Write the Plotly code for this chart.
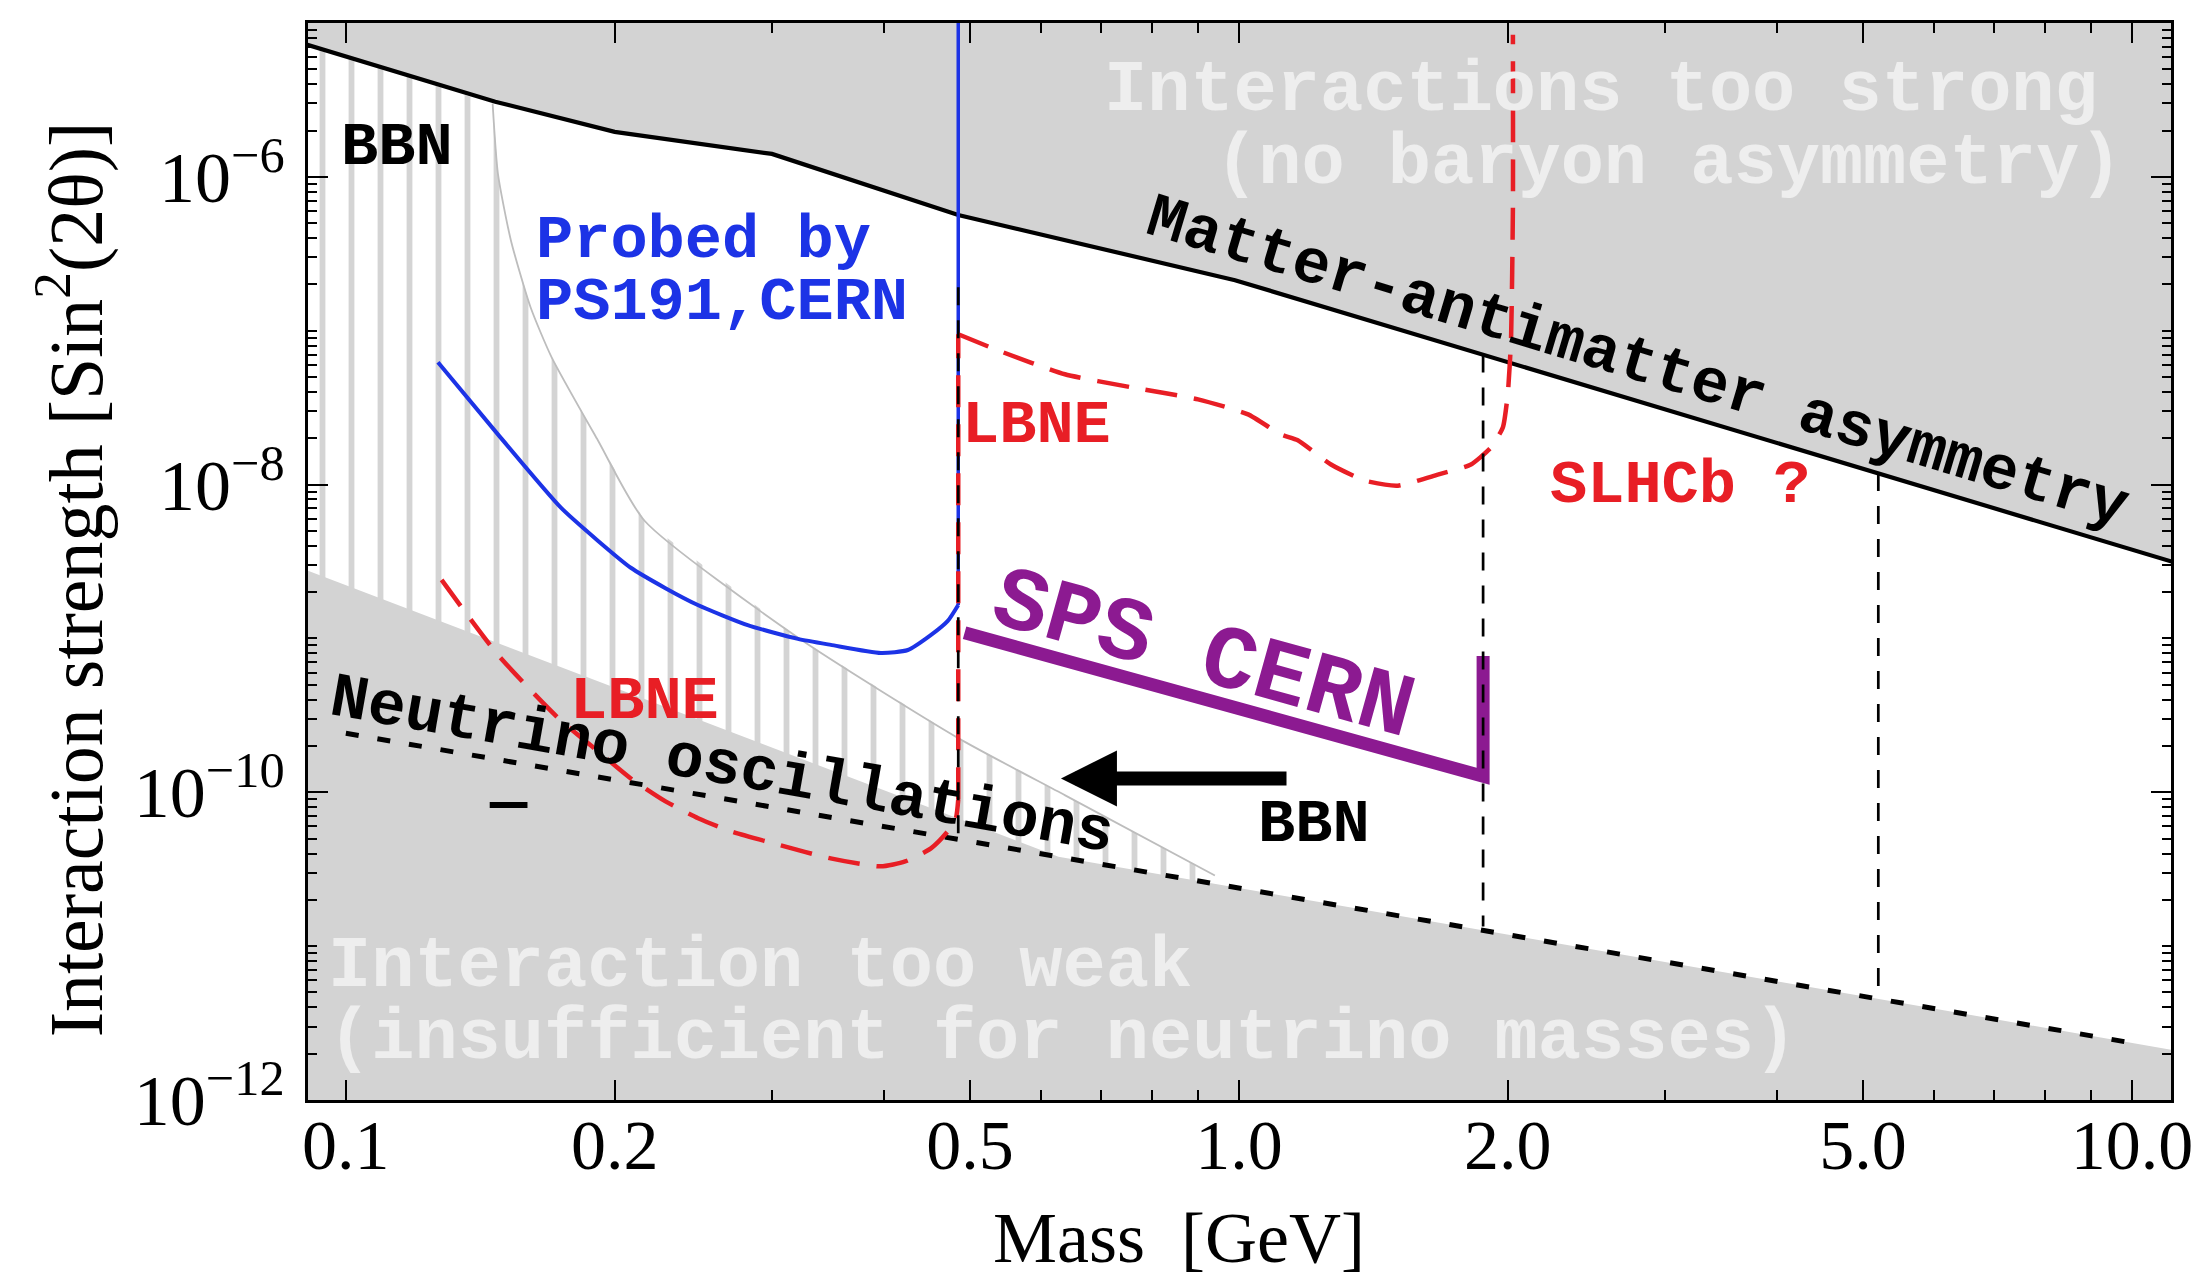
import numpy as np
import plotly.graph_objects as go

# ---------------- data (mass in GeV, sin^2(2theta)) ----------------
# Matter-antimatter asymmetry bound (black solid line, upper edge of allowed region)
MAA_M = [0.09, 0.147, 0.2, 0.3, 0.485, 0.99, 11.1]
MAA_S = [7.3e-6, 3.08e-6, 1.96e-6, 1.41e-6, 5.65e-7, 2.13e-7, 3.15e-9]

# BBN bound (thin grey curve)
BBN_M = [0.146, 0.148, 0.153, 0.161, 0.170, 0.1915, 0.216, 0.321, 0.485, 0.639, 0.94]
BBN_S = [2.99e-6, 1.05e-6, 3.89e-7, 1.42e-7, 6.71e-8, 1.94e-8, 5.82e-9, 1.01e-9, 2.25e-10, 9.55e-11, 2.88e-11]

# steep lower edge of allowed region ("interaction too weak")
WEAK_M = [0.09, 0.628]
WEAK_S = [2.8e-9, 3.81e-11]

# neutrino oscillations (dotted line)
NU_M = [0.1, 10.0]
NU_S = [2.42e-10, 2.35e-12]

# PS191 (blue)
PS191_M = [0.1268, 0.148, 0.1741, 0.1915, 0.2085, 0.2277, 0.2478, 0.2818, 0.3208,
           0.3492, 0.3973, 0.4259, 0.4518, 0.4721, 0.485]
PS191_S = [6.24e-8, 2.12e-8, 7.08e-9, 4.32e-9, 2.88e-9, 2.13e-9, 1.65e-9, 1.22e-9, 9.93e-10,
           9.08e-10, 8.05e-10, 8.41e-10, 1.05e-9, 1.30e-9, 1.65e-9]
PS191_TOP = 2e-5

# LBNE (red dashed): lower branch, kaon-threshold vertical, upper branch
LBNE_LOW_M = [0.128, 0.148, 0.173, 0.1915, 0.2085, 0.228, 0.248, 0.27, 0.307, 0.349,
              0.397, 0.423, 0.452, 0.472, 0.482, 0.485]
LBNE_LOW_S = [2.40e-9, 7.82e-10, 3.03e-10, 1.85e-10, 1.23e-10, 8.73e-11, 6.78e-11, 5.57e-11,
              4.52e-11, 3.72e-11, 3.30e-11, 3.55e-11, 4.32e-11, 5.57e-11, 6.78e-11, 9.0e-11]
LBNE_UP_M = [0.485, 0.537, 0.6385, 0.757, 0.90, 1.024, 1.114, 1.164, 1.268, 1.384, 1.507,
             1.67, 1.819, 1.915, 1.975, 2.0, 2.017, 2.027, 2.027]
LBNE_UP_S = [9.48e-8, 7.46e-8, 5.21e-8, 4.29e-8, 3.58e-8, 2.86e-8, 2.12e-8, 1.94e-8, 1.35e-8,
             1.06e-8, 9.84e-9, 1.16e-8, 1.35e-8, 1.74e-8, 2.35e-8, 3.85e-8, 8.67e-8, 6.38e-7, 8.4e-6]

# SPS CERN (purple)
SPS_M = [0.493, 1.877, 1.877]
SPS_S = [1.09e-9, 1.27e-10, 7.7e-10]

# meson thresholds (black dashed verticals)
MESON_M = [0.485, 1.877, 5.2]
MESON_TOP = [1.92e-7, 7.0e-8, 1.19e-8]
MESON_BOT = [4.94e-11, 1.34e-11, 4.55e-12]

# BBN arrow
ARROW_M = [1.135, 0.632]
ARROW_S = 1.23e-10

# axis ticks
X_TICKS = [0.1, 0.2, 0.5, 1.0, 2.0, 5.0, 10.0]
X_TICKTEXT = ["0.1", "0.2", "0.5", "1.0", "2.0", "5.0", "10.0"]
X_MINOR = [0.3, 0.4, 0.6, 0.7, 0.8, 0.9, 3, 4, 6, 7, 8, 9]
Y_TICKS = [1e-6, 1e-8, 1e-10, 1e-12]
Y_TICKTEXT = ["10<sup>\u22126</sup>", "10<sup>\u22128</sup>", "10<sup>\u221210</sup>", "10<sup>\u221212</sup>"]

# ---------------- helpers ----------------
lg = np.log10
SERIF = "Liberation Serif"
MONO = "Liberation Mono"
GREY = "#d3d3d3"
RED = "#e81e25"
BLUE = "#1c33e6"
PURPLE = "#8c1a91"
X_LO, X_HI = 0.0907, 11.06
FAR_LOW, FAR_HIGH = 1e-13, 1e-3


def nu_line(m):
    k = lg(NU_S[1] / NU_S[0]) / lg(NU_M[1] / NU_M[0])
    return NU_S[0] * (m / NU_M[0]) ** k


fig = go.Figure()

# hatched BBN-excluded region (drawn first, grey regions overlay it)
hatch_m = [m for m in MAA_M if m < BBN_M[0]] + BBN_M + [BBN_M[-1], MAA_M[0]]
hatch_s = [s for m, s in zip(MAA_M, MAA_S) if m < BBN_M[0]] + BBN_S + [FAR_LOW, FAR_LOW]
fig.add_trace(go.Scatter(
    x=hatch_m, y=hatch_s, mode="lines", line=dict(width=0), fill="toself", fillcolor="white",
    fillpattern=dict(shape="|", size=29, solidity=0.2, fgcolor="#d4d4d4", bgcolor="white",
                     fillmode="replace"),
    hoverinfo="skip"))

# upper grey region (too strong)
fig.add_trace(go.Scatter(
    x=MAA_M + [MAA_M[-1], MAA_M[0]], y=MAA_S + [FAR_HIGH, FAR_HIGH], mode="lines",
    line=dict(width=0), fill="toself", fillcolor=GREY, hoverinfo="skip"))

# lower grey region (too weak)
low_m = WEAK_M + [MAA_M[-1], MAA_M[-1], WEAK_M[0]]
low_s = WEAK_S + [nu_line(MAA_M[-1]), FAR_LOW, FAR_LOW]
fig.add_trace(go.Scatter(
    x=low_m, y=low_s, mode="lines", line=dict(width=0), fill="toself", fillcolor=GREY,
    hoverinfo="skip"))

# thin BBN curve
fig.add_trace(go.Scatter(x=BBN_M, y=BBN_S, mode="lines",
                         line=dict(color="#bdbdbd", width=1.8, shape="spline", smoothing=0.6)))

# matter-antimatter black line
fig.add_trace(go.Scatter(x=MAA_M, y=MAA_S, mode="lines", line=dict(color="black", width=4.2)))

# neutrino oscillations dotted line
fig.add_trace(go.Scatter(x=NU_M, y=NU_S, mode="lines",
                         line=dict(color="black", width=5, dash="13px,19px")))

# PS191 blue
fig.add_trace(go.Scatter(x=PS191_M, y=PS191_S, mode="lines",
                         line=dict(color=BLUE, width=4, shape="spline", smoothing=0.6)))
fig.add_trace(go.Scatter(x=[PS191_M[-1], PS191_M[-1]], y=[PS191_S[-1], PS191_TOP], mode="lines",
                         line=dict(color=BLUE, width=3.5)))

# LBNE red dashed
RED_DASH = "32px,17px"
fig.add_trace(go.Scatter(x=LBNE_LOW_M, y=LBNE_LOW_S, mode="lines",
                         line=dict(color=RED, width=4.5, dash=RED_DASH, shape="spline", smoothing=0.6)))
fig.add_trace(go.Scatter(x=[LBNE_LOW_M[-1], LBNE_UP_M[0]], y=[LBNE_LOW_S[-1], LBNE_UP_S[0]], mode="lines",
                         line=dict(color=RED, width=4.5, dash=RED_DASH)))
fig.add_trace(go.Scatter(x=LBNE_UP_M, y=LBNE_UP_S, mode="lines",
                         line=dict(color=RED, width=4.5, dash=RED_DASH, shape="spline", smoothing=0.5)))

# SPS CERN purple
fig.add_trace(go.Scatter(x=SPS_M, y=SPS_S, mode="lines", line=dict(color=PURPLE, width=13)))

# meson thresholds
for m, top, bot in zip(MESON_M, MESON_TOP, MESON_BOT):
    fig.add_trace(go.Scatter(x=[m, m], y=[top, bot], mode="lines",
                             line=dict(color="black", width=2.7, dash="18px,15px")))

# ---------------- annotations ----------------
def label(text, m, s, size, color, xanchor="center", angle=0, family=MONO, bold=True):
    fig.add_annotation(
        x=lg(m), y=lg(s), xref="x", yref="y", text=("<b>%s</b>" % text) if bold else text,
        showarrow=False, xanchor=xanchor, yanchor="middle", textangle=angle,
        font=dict(family=family, size=size, color=color))


def px_to_data(px, py):
    # convenience: pixel position inside the reference frame -> data values
    return 10 ** (-1 + (px - 338) / 893.0), 10 ** (-6 - (py - 170) / 153.5)


LIGHT = "#eeeeee"
label("BBN", *px_to_data(389, 141), 62, "black")
label("Probed by", *px_to_data(526, 233), 62, BLUE, xanchor="left")
label("PS191,CERN", *px_to_data(526, 295), 62, BLUE, xanchor="left")
label("LBNE", *px_to_data(952, 418), 62, RED, xanchor="left")
label("LBNE", *px_to_data(560, 693), 62, RED, xanchor="left")
label("SLHCb ?", *px_to_data(1540, 478), 62, RED, xanchor="left")
label("BBN", *px_to_data(1306, 816), 62, "black")
label("\u2014", *px_to_data(501, 796), 62, "black")
label("SPS CERN", *px_to_data(1195, 648), 90, PURPLE, angle=15.5)
label("Matter-antimatter asymmetry", *px_to_data(1630, 356), 63, "black", angle=16.7)
label("Neutrino oscillations", *px_to_data(714, 758), 63, "black", angle=10)
label("Interactions too strong", *px_to_data(1094, 84), 72, LIGHT, xanchor="left")
label("(no baryon asymmetry)", *px_to_data(1205, 157), 72, LIGHT, xanchor="left")
label("Interaction too weak", *px_to_data(318, 958), 72, LIGHT, xanchor="left")
label("(insufficient for neutrino masses)", *px_to_data(318, 1030), 72, LIGHT, xanchor="left")

# arrow
fig.add_annotation(x=lg(ARROW_M[1]), y=lg(ARROW_S), ax=lg(ARROW_M[0]), ay=lg(ARROW_S),
                   xref="x", yref="y", axref="x", ayref="y", text="", showarrow=True,
                   arrowhead=2, arrowsize=0.8, arrowwidth=14, arrowcolor="black")

# axis titles
fig.add_annotation(x=0.4675, y=-0.128, xref="paper", yref="paper", showarrow=False,
                   text="Mass\u00a0 [GeV]", xanchor="center", yanchor="middle",
                   font=dict(family=SERIF, size=72, color="black"))
fig.add_annotation(x=-0.127, y=0.4838, xref="paper", yref="paper", showarrow=False,
                   text="Interaction strength [Sin<sup>2</sup>(2\u03b8)]", textangle=-90,
                   xanchor="center", yanchor="middle",
                   font=dict(family=SERIF, size=76, color="black"))

y_minor = [k * 10.0 ** n for n in range(-12, -5) for k in range(1, 10)
           if not (k == 1 and n % 2 == 0)]

fig.update_layout(
    width=2199, height=1277, margin=dict(l=300, r=36, t=15, b=185),
    plot_bgcolor="white", paper_bgcolor="white", showlegend=False,
)
fig.update_xaxes(
    type="log", range=[lg(X_LO), lg(X_HI)], tickmode="array", tickvals=X_TICKS, ticktext=X_TICKTEXT,
    ticks="inside", ticklen=20, tickwidth=2, tickcolor="black", showline=True, linewidth=3,
    linecolor="black", mirror="allticks", showgrid=False, zeroline=False, ticklabelstandoff=-18,
    tickfont=dict(family=SERIF, size=70, color="black"),
    minor=dict(tickmode="array", tickvals=X_MINOR, ticks="inside", ticklen=10, tickwidth=2,
               tickcolor="black", showgrid=False),
)
fig.update_yaxes(
    type="log", range=[-12, -5], tickmode="array", tickvals=Y_TICKS, ticktext=Y_TICKTEXT,
    ticks="inside", ticklen=20, tickwidth=2, tickcolor="black", showline=True, linewidth=3,
    linecolor="black", mirror="allticks", showgrid=False, zeroline=False, ticklabelstandoff=6,
    tickfont=dict(family=SERIF, size=72, color="black"),
    minor=dict(tickmode="array", tickvals=y_minor, ticks="inside", ticklen=9, tickwidth=1.5,
               tickcolor="black", showgrid=False),
)

fig.write_html("out.html")
